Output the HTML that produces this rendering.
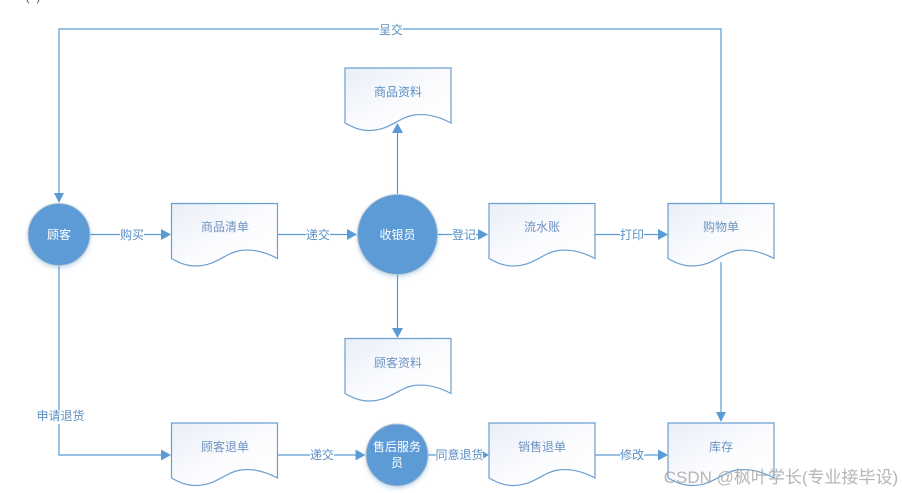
<!DOCTYPE html>
<html><head><meta charset="utf-8">
<style>
html,body{margin:0;padding:0;background:#fff;width:902px;height:493px;overflow:hidden}
svg{display:block}
text{font-family:"Liberation Sans","Noto Sans CJK SC",sans-serif;font-size:12px;text-anchor:middle}
.l{fill:#5b8fc4}
.d{fill:#6f93c2}
.w{fill:#fff}
.bg{fill:#fff}
.e{fill:none;stroke:#5b9bd5;stroke-width:1.2}
.a{fill:#5b9bd5}
.doc{fill:url(#g);stroke:#6a9fd0;stroke-width:1.2}
</style></head><body>
<svg width="902" height="493" viewBox="0 0 902 493" xmlns="http://www.w3.org/2000/svg">
<defs>
<linearGradient id="g" x1="0" y1="0" x2="1" y2="1">
<stop offset="0" stop-color="#e9eef8"/><stop offset="0.55" stop-color="#fbfcfe"/><stop offset="1" stop-color="#ffffff"/>
</linearGradient>
<path id="doc" d="M0 .5H106V55.5C92 48 80 46 69 47.500C53 50 45 63 24 63C15 63 8 60 0 55.500Z"/>
<filter id="s" x="-20%" y="-20%" width="140%" height="150%"><feDropShadow dx="0" dy="2" stdDeviation="2" flood-color="#5b9bd5" flood-opacity=".35"/></filter>
</defs>

<!-- top-edge clipped mark -->
<text x="33" y="1" style="font-size:12px;fill:#555">(&#160;&#160;)</text>

<!-- connectors -->
<path class="e" d="M721 203V29H59V193"/>
<path class="a" d="M54 193H64L59 203Z"/>
<path class="e" d="M59 265V455H162"/>
<path class="a" d="M161 449.500V460.500L171 455Z"/>
<path class="e" d="M90 234.500H162"/>
<path class="a" d="M161 229V240L171 234.500Z"/>
<path class="e" d="M277 234.500H349"/>
<path class="a" d="M347 229V240L357 234.500Z"/>
<path class="e" d="M438 234.500H480"/>
<path class="a" d="M478 229V240L488 234.500Z"/>
<path class="e" d="M595 234.500H659"/>
<path class="a" d="M658 229V240L668 234.500Z"/>
<path class="e" d="M397.500 195V132"/>
<path class="a" d="M392 133H403L397.500 123Z"/>
<path class="e" d="M397.500 275V329"/>
<path class="a" d="M392 328H403L397.500 338Z"/>
<path class="e" d="M721 262V413"/>
<path class="a" d="M716 412H726L721 422Z"/>
<path class="e" d="M277 455H357"/>
<path class="a" d="M355.500 449.500V460.500L365.500 455Z"/>
<path class="e" d="M428 455H484"/>
<path class="a" d="M483 451.500V458.500L489 455Z"/>
<path class="e" d="M595 455H659"/>
<path class="a" d="M658 449.500V460.500L668 455Z"/>

<!-- documents -->
<use href="#doc" class="doc" x="171.500" y="203"/>
<use href="#doc" class="doc" x="345" y="67.500"/>
<use href="#doc" class="doc" x="489" y="203"/>
<use href="#doc" class="doc" x="668" y="203"/>
<use href="#doc" class="doc" x="345" y="338"/>
<use href="#doc" class="doc" x="171.500" y="422.500"/>
<use href="#doc" class="doc" x="489" y="422.500"/>
<use href="#doc" class="doc" x="668" y="422.500"/>

<!-- circles -->
<circle cx="59" cy="234.500" r="31" fill="#5b9bd5" stroke="#b9c4cf" stroke-width="1" filter="url(#s)"/>
<circle cx="397.500" cy="234.500" r="40" fill="#5b9bd5" stroke="#b9c4cf" stroke-width="1" filter="url(#s)"/>
<circle cx="397" cy="455" r="31" fill="#5b9bd5" stroke="#b9c4cf" stroke-width="1" filter="url(#s)"/>

<!-- circle labels -->
<text class="w" x="59" y="239">顾客</text>
<text class="w" x="397.500" y="239">收银员</text>
<text class="w" x="397" y="451">售后服务</text>
<text class="w" x="397" y="467">员</text>

<!-- document labels -->
<text class="d" x="225" y="231">商品清单</text>
<text class="l" x="398" y="96">商品资料</text>
<text class="d" x="542" y="231">流水账</text>
<text class="d" x="721" y="231">购物单</text>
<text class="d" x="398" y="367">顾客资料</text>
<text class="d" x="225" y="451">顾客退单</text>
<text class="d" x="542" y="451">销售退单</text>
<text class="d" x="721" y="451">库存</text>

<!-- connector labels -->
<rect class="bg" x="379" y="22" width="24" height="14"/>
<text class="l" x="391" y="34">呈交</text>
<rect class="bg" x="120" y="228" width="24" height="14"/>
<text class="l" x="132" y="239">购买</text>
<rect class="bg" x="306" y="228" width="24" height="14"/>
<text class="l" x="318" y="239">递交</text>
<rect class="bg" x="452" y="228" width="24" height="14"/>
<text class="l" x="464" y="239">登记</text>
<rect class="bg" x="620" y="228" width="24" height="14"/>
<text class="l" x="632" y="239">打印</text>
<rect class="bg" x="37" y="410" width="47" height="14"/>
<text class="l" x="60.500" y="420">申请退货</text>
<rect class="bg" x="310" y="448" width="24" height="14"/>
<text class="l" x="322" y="459">递交</text>
<rect class="bg" x="436" y="448" width="47" height="14"/>
<text class="l" x="459.500" y="459">同意退货</text>
<rect class="bg" x="620" y="448" width="24" height="14"/>
<text class="l" x="632" y="459">修改</text>

<!-- watermark -->
<text x="781" y="483" style="font-size:17px;fill:#a8a8a8;fill-opacity:.85">CSDN @枫叶学长(专业接毕设)</text>
</svg>
</body></html>
